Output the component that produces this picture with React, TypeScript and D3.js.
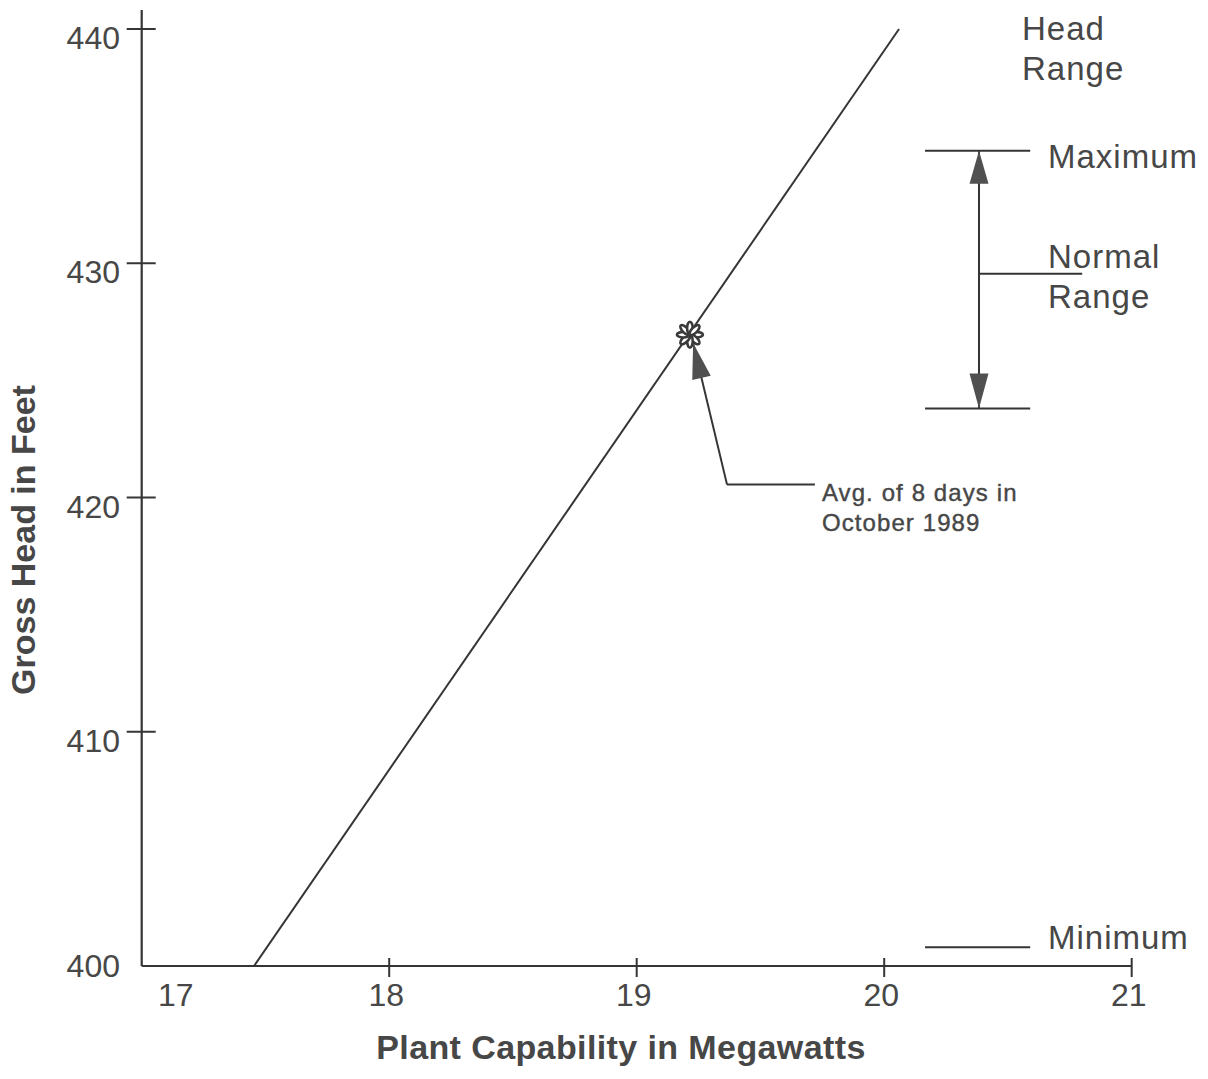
import React from "react";
import * as d3 from "d3";

// ---- data ----
const xTicks = [17, 18, 19, 20, 21];
const yTicks = [400, 410, 420, 430, 440];
// capability line: [megawatts, gross head]
const capabilityLine: [number, number][] = [
  [17.454, 400],
  [20.06, 440],
];
// observed average point
const avgPoint: [number, number] = [19.215, 426.95];
const avgLabel = ["Avg. of 8 days in", "October 1989"];
// annotation leader: tip, elbow, end
const avgLeader: [number, number][] = [
  [19.228, 426.6],
  [19.365, 420.55],
  [19.72, 420.55],
];
// head range markers
const headMax = 434.8;
const headNormalLow = 423.8;
const headMin = 400.8;
const headNormalMid = 429.55;
const rangeBarX: [number, number] = [20.165, 20.59];
const rangeArrowX = 20.383;
const normalLabelLineEnd = 20.8;
const headRangeTitle = ["Head", "Range"];
const normalRangeLabel = ["Normal", "Range"];
const maxLabel = "Maximum";
const minLabel = "Minimum";
const xTitle = "Plant Capability in Megawatts";
const yTitle = "Gross Head in Feet";

const W = 1208;
const H = 1079;
const FONT = "'Liberation Sans', Arial, Helvetica, sans-serif";
const LINE = "#353535";
const TXT = "#474747";

export default function App() {
  const x = d3.scaleLinear().domain([17, 21]).range([141.7, 1131.7]);
  const y = d3.scaleLinear().domain([400, 440]).range([966, 29]);
  const line = d3
    .line<[number, number]>()
    .x((d) => x(d[0]))
    .y((d) => y(d[1]));

  const arrowHead = (tx: number, ty: number, fx: number, fy: number, len: number, hw: number) => {
    const dx = fx - tx;
    const dy = fy - ty;
    const L = Math.hypot(dx, dy);
    const ux = dx / L;
    const uy = dy / L;
    const bx = tx + ux * len;
    const by = ty + uy * len;
    const px = -uy * hw;
    const py = ux * hw;
    return `M${tx},${ty}L${bx + px},${by + py}L${bx - px},${by - py}Z`;
  };

  const cx = x(avgPoint[0]);
  const cy = y(avgPoint[1]);
  const petals = d3.range(8).map((i) => (i * 360) / 8);

  const ax = x(rangeArrowX);
  const tip = avgLeader[0];
  const elbow = avgLeader[1];

  return (
    <svg
      width={W}
      height={H}
      style={{ position: "absolute", left: 0, top: 0, background: "#fff" }}
      fontFamily={FONT}
    >
      <rect width={W} height={H} fill="#fff" />
      {/* axes */}
      <line x1={x(17)} x2={x(17)} y1={10} y2={y(400)} stroke={LINE} strokeWidth={2.2} />
      <line x1={x(17)} x2={x(21)} y1={y(400)} y2={y(400)} stroke={LINE} strokeWidth={2.2} />
      {yTicks.map((v) => (
        <g key={"y" + v}>
          {v !== 400 && (
            <line x1={x(17) - 15} x2={x(17) + 14} y1={y(v)} y2={y(v)} stroke={LINE} strokeWidth={2} />
          )}
          <text
            x={120}
            y={y(v) + (v === 400 ? 11 : 20)}
            textAnchor="end"
            fontSize={32}
            fill={TXT}
          >
            {v}
          </text>
        </g>
      ))}
      {xTicks.map((v) => (
        <g key={"x" + v}>
          {v !== 17 && (
            <line x1={x(v)} x2={x(v)} y1={y(400) - 8} y2={y(400) + 11} stroke={LINE} strokeWidth={2} />
          )}
          <text
            x={x(v) + (v === 17 ? 34 : -3)}
            y={y(400) + 40}
            textAnchor="middle"
            fontSize={32}
            fill={TXT}
          >
            {v}
          </text>
        </g>
      ))}
      <text
        x={621}
        y={1059}
        textAnchor="middle"
        fontSize={34}
        letterSpacing={0.4}
        fontWeight="bold"
        fill={TXT}
      >
        {xTitle}
      </text>
      <text
        transform={`translate(35,540) rotate(-90)`}
        textAnchor="middle"
        fontSize={34}
        fontWeight="bold"
        fill={TXT}
      >
        {yTitle}
      </text>

      {/* capability line */}
      <path d={line(capabilityLine) || ""} fill="none" stroke={LINE} strokeWidth={2} />

      {/* asterisk */}
      <g transform={`translate(${cx},${cy})`}>
        {petals.map((a) => (
          <ellipse
            key={a}
            cx={6.5}
            cy={0}
            rx={6.5}
            ry={2.8}
            transform={`rotate(${a})`}
            fill="#fff"
            stroke="#3a3a3a"
            strokeWidth={2.6}
          />
        ))}
      </g>

      {/* annotation */}
      <path
        d={`M${x(elbow[0])},${y(elbow[1])}L${x(tip[0])},${y(tip[1])}`}
        stroke={LINE}
        strokeWidth={2}
        fill="none"
      />
      <path d={line(avgLeader.slice(1)) || ""} stroke={LINE} strokeWidth={2} fill="none" />
      <path
        d={arrowHead(x(tip[0]), y(tip[1]), x(elbow[0]), y(elbow[1]), 36, 9.5)}
        fill="#505050"
      />
      {avgLabel.map((t, i) => (
        <text
          key={t}
          x={x(avgLeader[2][0]) + 7}
          y={y(avgLeader[2][1]) + 16 + i * 30}
          fontSize={24}
          letterSpacing={1.1}
          fill={TXT}
          stroke={TXT}
          strokeWidth={0.4}
        >
          {t}
        </text>
      ))}

      {/* head range */}
      {headRangeTitle.map((t, i) => (
        <text key={"h" + i} x={1022} y={40 + i * 40} fontSize={33} letterSpacing={1} fill={TXT}>
          {t}
        </text>
      ))}
      {[headMax, headNormalLow, headMin].map((v) => (
        <line
          key={"r" + v}
          x1={x(rangeBarX[0])}
          x2={x(rangeBarX[1])}
          y1={y(v)}
          y2={y(v)}
          stroke={LINE}
          strokeWidth={2}
        />
      ))}
      <line x1={ax} x2={ax} y1={y(headMax)} y2={y(headNormalLow)} stroke={LINE} strokeWidth={2} />
      <path d={arrowHead(ax, y(headMax), ax, y(headNormalLow), 33, 9.5)} fill="#505050" />
      <path d={arrowHead(ax, y(headNormalLow), ax, y(headMax), 35, 9.5)} fill="#505050" />
      <line
        x1={ax}
        x2={x(normalLabelLineEnd)}
        y1={y(headNormalMid)}
        y2={y(headNormalMid)}
        stroke={LINE}
        strokeWidth={2}
      />
      <text x={1048} y={y(headMax) + 17} fontSize={33} letterSpacing={1} fill={TXT}>
        {maxLabel}
      </text>
      {normalRangeLabel.map((t, i) => (
        <text key={"n" + i} x={1048} y={268 + i * 40} fontSize={33} letterSpacing={1} fill={TXT}>
          {t}
        </text>
      ))}
      <text x={1048} y={y(headMin) + 2} fontSize={33} letterSpacing={1} fill={TXT}>
        {minLabel}
      </text>
    </svg>
  );
}
